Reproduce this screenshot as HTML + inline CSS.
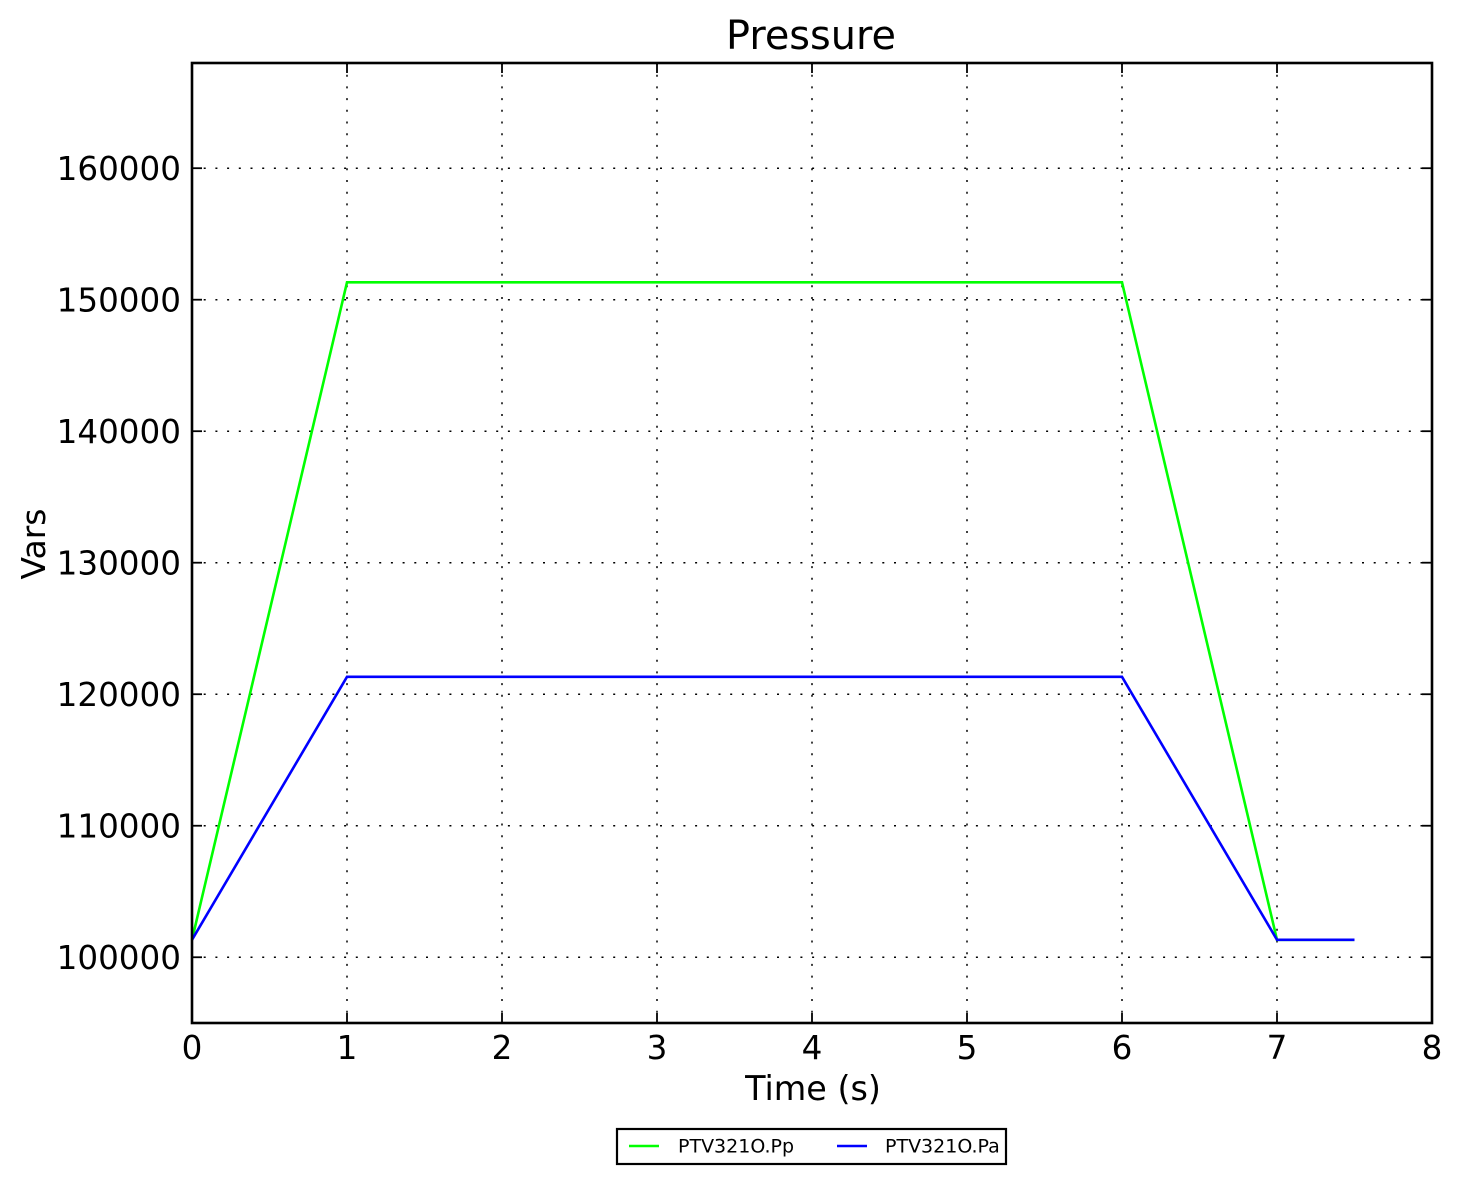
<!DOCTYPE html>
<html><head><meta charset="utf-8"><style>
html,body{margin:0;padding:0;background:#fff;}
svg{display:block;}
text{font-family:"DejaVu Sans","Liberation Sans",sans-serif;fill:#000;}
</style></head><body>
<svg width="1459" height="1183" viewBox="0 0 1459 1183" xmlns="http://www.w3.org/2000/svg">
<rect width="1459" height="1183" fill="#fff"/>
<!-- grid -->
<g stroke="#000" stroke-width="1.5" stroke-dasharray="2 9.7" fill="none">
<line x1="347" y1="63" x2="347" y2="1023"/>
<line x1="502" y1="63" x2="502" y2="1023"/>
<line x1="657" y1="63" x2="657" y2="1023"/>
<line x1="812" y1="63" x2="812" y2="1023"/>
<line x1="967" y1="63" x2="967" y2="1023"/>
<line x1="1122" y1="63" x2="1122" y2="1023"/>
<line x1="1277" y1="63" x2="1277" y2="1023"/>
<line x1="192" y1="957.25" x2="1432" y2="957.25"/>
<line x1="192" y1="825.74" x2="1432" y2="825.74"/>
<line x1="192" y1="694.23" x2="1432" y2="694.23"/>
<line x1="192" y1="562.7" x2="1432" y2="562.7"/>
<line x1="192" y1="431.2" x2="1432" y2="431.2"/>
<line x1="192" y1="299.7" x2="1432" y2="299.7"/>
<line x1="192" y1="168.2" x2="1432" y2="168.2"/>
</g>
<!-- series -->
<polyline fill="none" stroke="#00ff00" stroke-width="2.6" points="192,939.8 347,282.3 1122,282.3 1277,939.8 1354.5,939.8"/>
<polyline fill="none" stroke="#0000ff" stroke-width="2.6" points="192,939.8 347,676.8 1122,676.8 1277,939.8 1354.5,939.8"/>
<!-- ticks -->
<g stroke="#000" stroke-width="1.8">
<line x1="347" y1="1023" x2="347" y2="1013"/><line x1="347" y1="63" x2="347" y2="73"/>
<line x1="502" y1="1023" x2="502" y2="1013"/><line x1="502" y1="63" x2="502" y2="73"/>
<line x1="657" y1="1023" x2="657" y2="1013"/><line x1="657" y1="63" x2="657" y2="73"/>
<line x1="812" y1="1023" x2="812" y2="1013"/><line x1="812" y1="63" x2="812" y2="73"/>
<line x1="967" y1="1023" x2="967" y2="1013"/><line x1="967" y1="63" x2="967" y2="73"/>
<line x1="1122" y1="1023" x2="1122" y2="1013"/><line x1="1122" y1="63" x2="1122" y2="73"/>
<line x1="1277" y1="1023" x2="1277" y2="1013"/><line x1="1277" y1="63" x2="1277" y2="73"/>
<line x1="192" y1="957.25" x2="202" y2="957.25"/><line x1="1432" y1="957.25" x2="1422" y2="957.25"/>
<line x1="192" y1="825.74" x2="202" y2="825.74"/><line x1="1432" y1="825.74" x2="1422" y2="825.74"/>
<line x1="192" y1="694.23" x2="202" y2="694.23"/><line x1="1432" y1="694.23" x2="1422" y2="694.23"/>
<line x1="192" y1="562.7" x2="202" y2="562.7"/><line x1="1432" y1="562.7" x2="1422" y2="562.7"/>
<line x1="192" y1="431.2" x2="202" y2="431.2"/><line x1="1432" y1="431.2" x2="1422" y2="431.2"/>
<line x1="192" y1="299.7" x2="202" y2="299.7"/><line x1="1432" y1="299.7" x2="1422" y2="299.7"/>
<line x1="192" y1="168.2" x2="202" y2="168.2"/><line x1="1432" y1="168.2" x2="1422" y2="168.2"/>
</g>
<!-- frame -->
<rect x="192" y="63" width="1240" height="960" fill="none" stroke="#000" stroke-width="2.6"/>
<!-- y tick labels -->
<g font-size="32.6" text-anchor="end">
<text x="181" y="969">100000</text>
<text x="181" y="837.5">110000</text>
<text x="181" y="706">120000</text>
<text x="181" y="574.5">130000</text>
<text x="181" y="443">140000</text>
<text x="181" y="311.5">150000</text>
<text x="181" y="180">160000</text>
</g>
<!-- x tick labels -->
<g font-size="32.6" text-anchor="middle">
<text x="192" y="1059">0</text>
<text x="347" y="1059">1</text>
<text x="502" y="1059">2</text>
<text x="657" y="1059">3</text>
<text x="812" y="1059">4</text>
<text x="967" y="1059">5</text>
<text x="1122" y="1059">6</text>
<text x="1277" y="1059">7</text>
<text x="1432" y="1059">8</text>
</g>
<text x="813" y="1100" font-size="33.4" text-anchor="middle">Time (s)</text>
<text x="0" y="0" font-size="33" text-anchor="middle" transform="translate(45,544) rotate(-90)">Vars</text>
<text x="811" y="49" font-size="39.8" text-anchor="middle">Pressure</text>
<!-- legend -->
<rect x="617" y="1129" width="389" height="35" fill="#fff" stroke="#000" stroke-width="2.2"/>
<line x1="629" y1="1146" x2="659" y2="1146" stroke="#00ff00" stroke-width="2.6"/>
<text x="678" y="1152.5" font-size="19">PTV321O.Pp</text>
<line x1="837" y1="1146" x2="867" y2="1146" stroke="#0000ff" stroke-width="2.6"/>
<text x="885" y="1152.5" font-size="19">PTV321O.Pa</text>
</svg>
</body></html>
